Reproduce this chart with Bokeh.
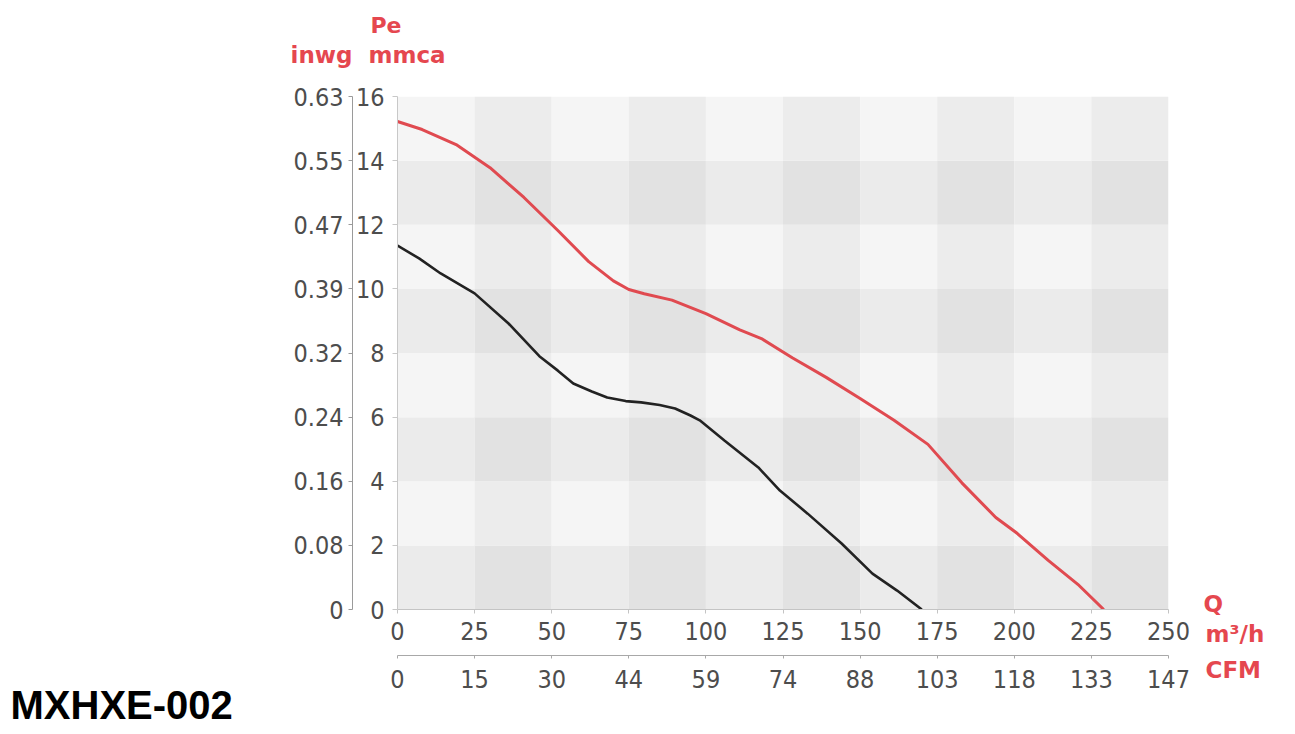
from bokeh.plotting import figure
from bokeh.models import LinearAxis, FixedTicker, Label, Range1d
from bokeh.embed import file_html
from bokeh.resources import INLINE

# ---- data ----
q_ticks = [0, 25, 50, 75, 100, 125, 150, 175, 200, 225, 250]
cfm_labels = ["0", "15", "30", "44", "59", "74", "88", "103", "118", "133", "147"]
p_ticks = [0, 2, 4, 6, 8, 10, 12, 14, 16]
inwg_labels = ["0", "0.08", "0.16", "0.24", "0.32", "0.39", "0.47", "0.55", "0.63"]

q_red = [0, 8, 19, 30, 41, 52, 62, 70, 75, 80, 89, 100, 111, 118, 128, 139, 150,
         161, 172, 183, 194, 201, 211, 221, 229]
p_red = [15.22, 14.97, 14.5, 13.78, 12.85, 11.82, 10.85, 10.25, 9.98, 9.85, 9.65,
         9.23, 8.72, 8.45, 7.85, 7.24, 6.58, 5.9, 5.15, 3.95, 2.87, 2.37, 1.53, 0.75, 0.0]

q_black = [0, 7, 14, 25, 36, 46, 52, 57, 63, 68, 74, 79, 85, 90, 95, 98, 106, 117,
           124, 133, 144, 154, 162, 170]
p_black = [11.35, 10.95, 10.48, 9.86, 8.92, 7.9, 7.45, 7.05, 6.8, 6.61, 6.5, 6.46,
           6.38, 6.27, 6.05, 5.9, 5.27, 4.43, 3.71, 2.99, 2.06, 1.12, 0.59, 0.0]

# ---- layout constants (canvas pixels) ----
W, H = 1290, 732
FL, FT, FR, FB = 397, 96, 1168, 609   # frame box

X0, X1 = q_ticks[0], q_ticks[-1]
Y0, Y1 = p_ticks[0], p_ticks[-1]

p = figure(width=W, height=H, x_range=Range1d(X0, X1), y_range=Range1d(Y0, Y1),
           output_backend="svg", toolbar_location=None,
           x_axis_location=None, y_axis_location=None,
           min_border_left=FL, min_border_right=W - FR,
           min_border_top=FT, min_border_bottom=H - FB)
p.outline_line_color = None
p.background_fill_color = "white"
p.border_fill_color = "white"
p.grid.grid_line_color = None

# checkerboard background
shades = {(False, False): "#f5f5f5", (True, False): "#ececec",
          (False, True): "#ebebeb", (True, True): "#e2e2e2"}
L, R, B, T, C = [], [], [], [], []
for i in range(len(q_ticks) - 1):
    for j in range(len(p_ticks) - 1):
        L.append(q_ticks[i]); R.append(q_ticks[i + 1])
        B.append(p_ticks[j]); T.append(p_ticks[j + 1])
        C.append(shades[(i % 2 == 1, j % 2 == 0)])
p.quad(left=L, right=R, bottom=B, top=T, fill_color=C, line_color=None)

p.line(q_red, p_red, line_color="#e04a50", line_width=3)
p.line(q_black, p_black, line_color="#222222", line_width=2.6)

TICK_FONT = "DejaVu Sans Condensed"
TICK_SIZE = "25px"
TICK_COLOR = "#4d4d4d"

def style(ax, line_color, tick_out):
    ax.major_label_text_font = TICK_FONT
    ax.major_label_text_font_size = TICK_SIZE
    ax.major_label_text_color = TICK_COLOR
    ax.axis_line_color = line_color
    ax.major_tick_line_color = line_color
    ax.major_tick_in = 0
    ax.major_tick_out = tick_out
    ax.minor_tick_line_color = None

# bottom axes
ax_q = LinearAxis(ticker=FixedTicker(ticks=q_ticks))
style(ax_q, "#c4c4c4", 4)
ax_q.major_label_standoff = 8
ax_q.axis_label = " "
ax_q.axis_label_text_font_size = "9px"
ax_q.axis_label_standoff = 0
p.add_layout(ax_q, "below")

ax_cfm = LinearAxis(ticker=FixedTicker(ticks=q_ticks),
                    major_label_overrides=dict(zip(q_ticks, cfm_labels)))
style(ax_cfm, "#a8a8a8", 3)
ax_cfm.major_label_standoff = 11
p.add_layout(ax_cfm, "below")

# left axes
ax_mm = LinearAxis(ticker=FixedTicker(ticks=p_ticks))
style(ax_mm, "#c8c8c8", 5)
ax_mm.major_label_standoff = 8
p.add_layout(ax_mm, "left")

ax_in = LinearAxis(ticker=FixedTicker(ticks=p_ticks),
                   major_label_overrides=dict(zip(p_ticks, inwg_labels)))
style(ax_in, "#9a9a9a", 4)
ax_in.major_label_standoff = 5
p.add_layout(ax_in, "left")

RED = "#e5474f"
LBL_FONT = "DejaVu Sans"

# Labels live in side panels (outer slots) so they are not clipped to the frame;
# they are positioned in canvas pixels. y given as baseline, corrected for
# the renderer's baseline offset.
def lab(text, px, base, size_px, side, color=RED, font=LBL_FONT, k=0.37):
    p.add_layout(Label(x=px, y=base - k * size_px, x_units="canvas", y_units="canvas",
                       text=text, text_font=font,
                       text_font_size=f"{size_px}px", text_font_style="bold",
                       text_color=color, text_baseline="alphabetic",
                       text_align="left"), side)

lab("Pe", 370, 33, 22, "above")
lab("inwg", 290, 63, 23, "above")
lab("mmca", 368, 63, 23, "above")
lab("Q", 1203, 612, 23, "right")
lab("m\u00b3/h", 1205, 642, 23, "right")
lab("CFM", 1205, 678, 23, "below")
lab("MXHXE-002", 10, 718, 40, "left", color="#000000", font="Liberation Sans", k=0.34)

open("out.html", "w").write(file_html(p, INLINE))
